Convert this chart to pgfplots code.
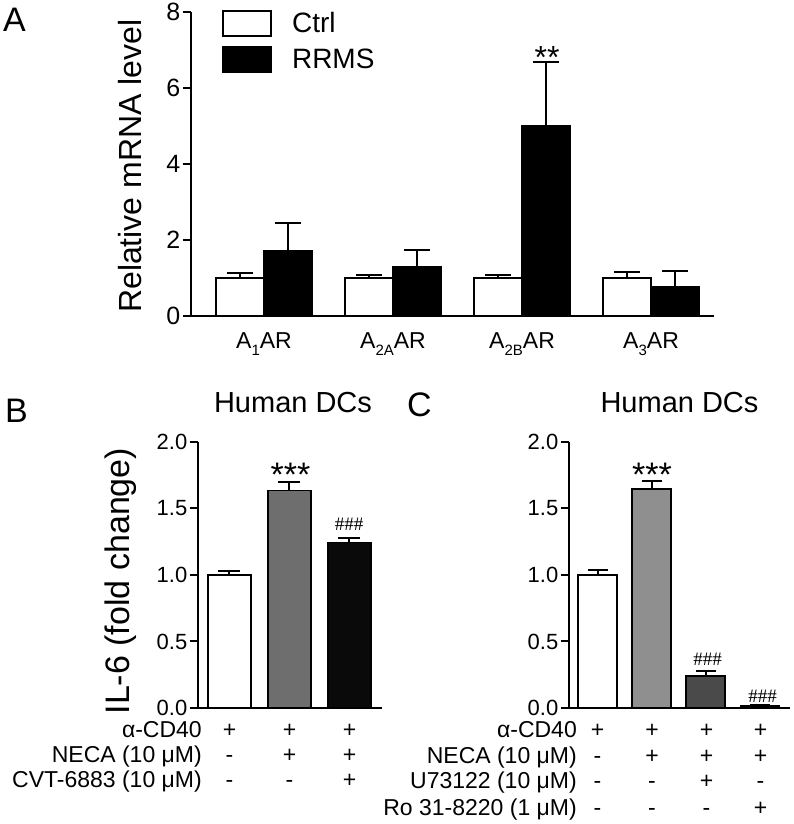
\documentclass[border=0pt]{standalone}
\usepackage{fontspec}
\setmainfont{Liberation Sans}
\newfontfamily\hashfont{Liberation Serif}
\usepackage{pgfplots}
\pgfplotsset{compat=1.18}
\definecolor{grayB}{HTML}{6E6E6E}
\definecolor{blackB}{HTML}{0A0A0A}
\definecolor{grayC}{HTML}{8F8F8F}
\definecolor{darkC}{HTML}{4A4A4A}
\definecolor{blackC}{HTML}{1E1E1E}
\pgfplotsset{
  gp/.style={
    scale only axis,
    axis x line*=bottom, axis y line*=left,
    axis line style={line width=2pt, black},
    tick align=outside,
    major tick length=8.5pt,
    ytick style={line width=2pt, black},
    xtick style={draw=none},
    minor tick num=0,
    /pgf/number format/assume math mode=true,
    ybar,
    clip=false,
    yticklabel style={inner sep=2pt},
    every axis plot/.append style={draw=black, line width=1.8pt},
    error bars/error bar style={line width=2pt, black},
  },
  cap/.style={error bars/error mark options={rotate=90, mark size=#1, line width=2pt, black}},
  boxlegend/.style={legend image code/.code={\draw[##1, line width=2pt] (0pt,-12.5pt) rectangle (48pt,12.5pt);}},
}
\begin{document}
\begin{tikzpicture}
\useasboundingbox (0pt,0pt) rectangle (793pt,824pt);
% ---------------- Panel A
\begin{axis}[gp, at={(191pt,508pt)}, anchor=south west,
  width=523pt, height=304pt,
  xmin=0.434, xmax=4.488, ymin=0, ymax=8,
  ytick={0,2,4,6,8},
  bar width=48pt, ybar=0pt,
  xtick={1,2,3,4},
  xticklabels={A\raisebox{-7pt}{\fontsize{15}{15}\selectfont 1}AR,
               A\raisebox{-7pt}{\fontsize{15}{15}\selectfont 2A}AR,
               A\raisebox{-7pt}{\fontsize{15}{15}\selectfont 2B}AR,
               A\raisebox{-7pt}{\fontsize{15}{15}\selectfont 3}AR},
  xticklabel style={font=\fontsize{23}{23}\selectfont, anchor=base, yshift=-24pt},
  yticklabel style={font=\fontsize{25}{25}\selectfont},
  ylabel={Relative mRNA level},
  ylabel style={font=\fontsize{32}{32}\selectfont, at={(axis description cs:-0.1157,0.493)}, anchor=center},
  legend style={at={(axis description cs:0.059,1.007)}, anchor=north west,
    draw=none, fill=none, inner sep=0pt, row sep=9pt,
    font=\fontsize{28}{28}\selectfont,
    /tikz/every odd column/.append style={column sep=18pt}},
  legend cell align=left,
]
\addplot[fill=white, boxlegend, cap=13pt, error bars/.cd, y dir=plus, y explicit]
  coordinates {(1,1.0) +- (0,0.13) (2,1.0) +- (0,0.07) (3,1.0) +- (0,0.07) (4,1.0) +- (0,0.16)};
\addplot[fill=black, boxlegend, cap=13pt, error bars/.cd, y dir=plus, y explicit]
  coordinates {(1,1.71) +- (0,0.74) (2,1.29) +- (0,0.45) (3,5.0) +- (0,1.68) (4,0.76) +- (0,0.42)};
\legend{Ctrl, RRMS}
\end{axis}
% ---------------- Panel B
\begin{axis}[gp, at={(198pt,116pt)}, anchor=south west,
  width=184pt, height=266pt,
  xmin=0.475, xmax=3.542, ymin=0, ymax=2,
  ytick={0,0.5,1,1.5,2},
  yticklabel style={font=\fontsize{22}{22}\selectfont, /pgf/number format/.cd, fixed, fixed zerofill, precision=1},
  bar width=43pt,
  xtick=\empty,
  ylabel={IL-6 (fold change)},
  ylabel style={font=\fontsize{34}{34}\selectfont, at={(axis description cs:-0.418,0.477)}, anchor=center},
]
\addplot[fill=white, bar shift=0pt, cap=11pt, error bars/.cd, y dir=plus, y explicit]
  coordinates {(1,1.0) +- (0,0.03)};
\addplot[fill=grayB, bar shift=0pt, cap=11pt, error bars/.cd, y dir=plus, y explicit]
  coordinates {(2,1.635) +- (0,0.065)};
\addplot[fill=blackB, bar shift=0pt, cap=11pt, error bars/.cd, y dir=plus, y explicit]
  coordinates {(3,1.245) +- (0,0.03)};
\end{axis}
% ---------------- Panel C
\begin{axis}[gp, at={(569pt,116pt)}, anchor=south west,
  width=221pt, height=266pt,
  xmin=0.474, xmax=4.554, ymin=0, ymax=2,
  ytick={0,0.5,1,1.5,2},
  yticklabel style={font=\fontsize{22}{22}\selectfont, /pgf/number format/.cd, fixed, fixed zerofill, precision=1},
  bar width=39pt,
  xtick=\empty,
]
\addplot[fill=white, bar shift=0pt, cap=10pt, error bars/.cd, y dir=plus, y explicit]
  coordinates {(1,1.0) +- (0,0.035)};
\addplot[fill=grayC, bar shift=0pt, cap=10pt, error bars/.cd, y dir=plus, y explicit]
  coordinates {(2,1.645) +- (0,0.065)};
\addplot[fill=darkC, bar shift=0pt, cap=10pt, error bars/.cd, y dir=plus, y explicit]
  coordinates {(3,0.24) +- (0,0.04)};
\addplot[fill=blackC, bar shift=0pt, cap=10pt, error bars/.cd, y dir=plus, y explicit]
  coordinates {(4,0.015) +- (0,0.01)};
\end{axis}
% ---------------- annotations
\node[anchor=base west, inner sep=0pt, font=\fontsize{34}{34}\selectfont] at (3pt,792pt) {A};
\node[anchor=base west, inner sep=0pt, font=\fontsize{34}{34}\selectfont] at (5pt,401pt) {B};
\node[anchor=base west, inner sep=0pt, font=\fontsize{34}{34}\selectfont] at (407pt,407pt) {C};
\node[anchor=base, inner sep=0pt, font=\fontsize{32}{32}\selectfont] at (547pt,755pt) {**};
\node[anchor=base, inner sep=0pt, font=\fontsize{29}{29}\selectfont] at (293pt,411pt) {Human DCs};
\node[anchor=base, inner sep=0pt, font=\fontsize{29}{29}\selectfont] at (679.5pt,411pt) {Human DCs};
\node[anchor=base, inner sep=0pt, font=\fontsize{34}{34}\selectfont] at (290.5pt,337pt) {***};
\node[anchor=base, inner sep=0pt, font=\fontsize{34}{34}\selectfont] at (652pt,337pt) {***};
\node[anchor=base, inner sep=0pt, font=\hashfont\fontsize{19}{19}\selectfont] at (349pt,293.5pt) {\#\#\#};
\node[anchor=base, inner sep=0pt, font=\hashfont\fontsize{19}{19}\selectfont] at (707.5pt,158.5pt) {\#\#\#};
\node[anchor=base, inner sep=0pt, font=\hashfont\fontsize{19}{19}\selectfont] at (762.5pt,121.5pt) {\#\#\#};
% treatment rows B
\begin{scope}[every node/.style={inner sep=0pt, font=\fontsize{23}{23}\selectfont}]
\node[anchor=base east] at (202pt,86pt) {α-CD40};
\node[anchor=base east] at (202pt,61pt) {NECA (10 μM)};
\node[anchor=base east] at (202pt,36pt) {CVT-6883 (10 μM)};
\node[anchor=base] at (229.5pt,86pt) {+};
\node[anchor=base] at (289.5pt,86pt) {+};
\node[anchor=base] at (349.5pt,86pt) {+};
\node[anchor=base] at (229.5pt,61pt) {-};
\node[anchor=base] at (289.5pt,61pt) {+};
\node[anchor=base] at (349.5pt,61pt) {+};
\node[anchor=base] at (229.5pt,36pt) {-};
\node[anchor=base] at (289.5pt,36pt) {-};
\node[anchor=base] at (349.5pt,36pt) {+};
% rows C
\node[anchor=base east] at (577pt,86pt) {α-CD40};
\node[anchor=base east] at (577pt,60pt) {NECA (10 μM)};
\node[anchor=base east] at (577pt,35pt) {U73122 (10 μM)};
\node[anchor=base east] at (577pt,9pt) {Ro 31-8220 (1 μM)};
\foreach \x in {597.5,652,706.5,760.5} {\node[anchor=base] at (\x pt,86pt) {+};}
\node[anchor=base] at (597.5pt,60pt) {-};
\foreach \x in {652,706.5,760.5} {\node[anchor=base] at (\x pt,60pt) {+};}
\node[anchor=base] at (597.5pt,35pt) {-};
\node[anchor=base] at (652pt,35pt) {-};
\node[anchor=base] at (706.5pt,35pt) {+};
\node[anchor=base] at (760.5pt,35pt) {-};
\node[anchor=base] at (597.5pt,9pt) {-};
\node[anchor=base] at (652pt,9pt) {-};
\node[anchor=base] at (706.5pt,9pt) {-};
\node[anchor=base] at (760.5pt,9pt) {+};
\end{scope}
\end{tikzpicture}
\end{document}
